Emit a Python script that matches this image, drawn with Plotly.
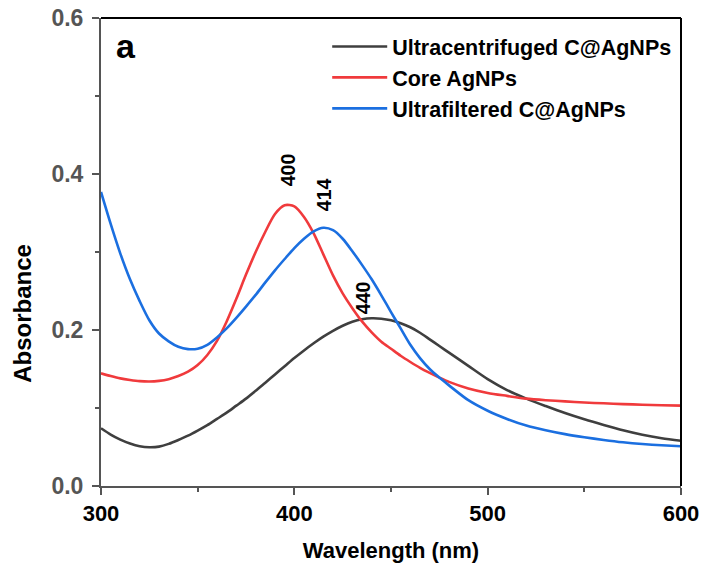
import plotly.graph_objects as go

# ---- data ----
wavelength = [300, 305, 310, 315, 320, 325, 330, 335, 340, 345, 350, 355, 360, 365, 370, 375,
              380, 385, 390, 395, 400, 405, 410, 415, 420, 425, 430, 435, 440, 445, 450, 455,
              460, 465, 470, 475, 480, 490, 500, 510, 520, 530, 540, 550, 560, 570, 580, 590, 600]

abs_centrifuged = [0.074, 0.066, 0.0595, 0.0545, 0.051, 0.0497, 0.0505, 0.054, 0.059, 0.0645,
                   0.071, 0.078, 0.086, 0.094, 0.103, 0.112, 0.122, 0.1325, 0.143, 0.1535,
                   0.164, 0.1738, 0.183, 0.1915, 0.199, 0.2055, 0.2105, 0.2137, 0.215, 0.2145,
                   0.2125, 0.2087, 0.2035, 0.1965, 0.188, 0.1795, 0.171, 0.154, 0.137, 0.123,
                   0.112, 0.1025, 0.0935, 0.0855, 0.0782, 0.0714, 0.0657, 0.0613, 0.058]

abs_core = [0.1445, 0.141, 0.138, 0.136, 0.1345, 0.134, 0.1348, 0.137, 0.141, 0.1465,
            0.155, 0.168, 0.186, 0.211, 0.240, 0.271, 0.300, 0.326, 0.3488, 0.360,
            0.3585, 0.345, 0.324, 0.297, 0.270, 0.247, 0.228, 0.211, 0.197, 0.185,
            0.176, 0.167, 0.159, 0.1515, 0.145, 0.139, 0.1335, 0.125, 0.1193, 0.1155,
            0.112, 0.110, 0.1085, 0.107, 0.106, 0.105, 0.1042, 0.1035, 0.103]

abs_filtered = [0.377, 0.336, 0.298, 0.265, 0.237, 0.2125, 0.1955, 0.1855, 0.1785, 0.1755,
                0.176, 0.181, 0.1905, 0.202, 0.2155, 0.230, 0.245, 0.261, 0.2765, 0.291,
                0.305, 0.317, 0.3265, 0.331, 0.328, 0.317, 0.301, 0.2835, 0.265, 0.2445,
                0.223, 0.202, 0.181, 0.164, 0.150, 0.139, 0.129, 0.110, 0.0965, 0.086,
                0.0775, 0.0715, 0.0665, 0.0625, 0.059, 0.056, 0.0538, 0.0522, 0.051]

series_names = ["Ultracentrifuged C@AgNPs", "Core AgNPs", "Ultrafiltered C@AgNPs"]
series_colors = ["#3f3f3f", "#f03a3c", "#1b6fe0"]

peak_labels = ["400", "414", "440"]
peak_label_x = [396.7, 415.4, 435.5]
peak_label_y = [0.406, 0.373, 0.242]

x_ticks = [300, 400, 500, 600]
y_ticks = [0.0, 0.2, 0.4, 0.6]

FONT = "Liberation Sans, Arial, sans-serif"

fig = go.Figure()
for ab, name, col in zip([abs_centrifuged, abs_core, abs_filtered], series_names, series_colors):
    fig.add_trace(go.Scatter(x=wavelength, y=ab, mode="lines", name=name,
                             line=dict(color=col, width=2.6, shape="spline", smoothing=0.8)))

for t, x, y in zip(peak_labels, peak_label_x, peak_label_y):
    fig.add_annotation(x=x, y=y, text=t, showarrow=False, textangle=-90,
                       font=dict(family=FONT, size=19.5, color="black", weight="bold"))

fig.add_annotation(xref="paper", yref="paper", x=0.022, y=0.941, text="a", showarrow=False,
                   xanchor="left", yanchor="middle",
                   font=dict(family=FONT, size=34, color="black", weight="bold"))

fig.add_annotation(xref="paper", yref="paper", x=-0.1345, y=0.370, text="Absorbance", showarrow=False,
                   textangle=-90, xanchor="center", yanchor="middle",
                   font=dict(family=FONT, size=24, color="black", weight="bold"))

# top and right frame in black
fig.add_shape(type="line", xref="paper", yref="paper", x0=0, x1=1, y0=1, y1=1,
              line=dict(color="black", width=2))
fig.add_shape(type="line", xref="paper", yref="paper", x0=1, x1=1, y0=0, y1=1,
              line=dict(color="black", width=2))

fig.update_layout(
    width=704, height=571,
    margin=dict(l=101, r=23, t=18, b=85),
    paper_bgcolor="white", plot_bgcolor="white",
    showlegend=True,
    legend=dict(x=0.390, y=0.983, xanchor="left", yanchor="top",
                bgcolor="rgba(0,0,0,0)", tracegroupgap=0,
                font=dict(family=FONT, size=21.5, color="black", weight="bold"),
                itemwidth=55),
    xaxis=dict(range=[300, 600], tickvals=x_ticks, ticktext=[str(v) for v in x_ticks],
               automargin=False, ticklabeloverflow="allow",
               showgrid=False, zeroline=False, showline=True, linecolor="#555555", linewidth=2,
               ticks="outside", ticklen=7, tickwidth=2, tickcolor="#555555",
               tickfont=dict(family=FONT, size=22, color="black", weight="bold"),
               minor=dict(dtick=50, ticks="outside", ticklen=4, tickwidth=2, tickcolor="#555555"),
               title=dict(text="Wavelength (nm)", standoff=17,
                          font=dict(family=FONT, size=22, color="black", weight="bold"))),
    yaxis=dict(range=[0, 0.6], tickvals=y_ticks, ticktext=["0.0", "0.2", "0.4", "0.6"],
               automargin=False, ticklabeloverflow="allow", ticklabelstandoff=4,
               showgrid=False, zeroline=False, showline=True, linecolor="#555555", linewidth=2,
               ticks="outside", ticklen=7, tickwidth=2, tickcolor="#555555",
               tickfont=dict(family=FONT, size=23, color="#555555", weight="bold"),
               minor=dict(dtick=0.1, ticks="outside", ticklen=4, tickwidth=2, tickcolor="#555555")),
)

# remove the default 8px page margin so the 704x571 figure fills the window exactly
fig.write_html("out.html", config={"displayModeBar": False},
               post_script="document.body.style.margin='0';document.body.style.overflow='hidden';")
